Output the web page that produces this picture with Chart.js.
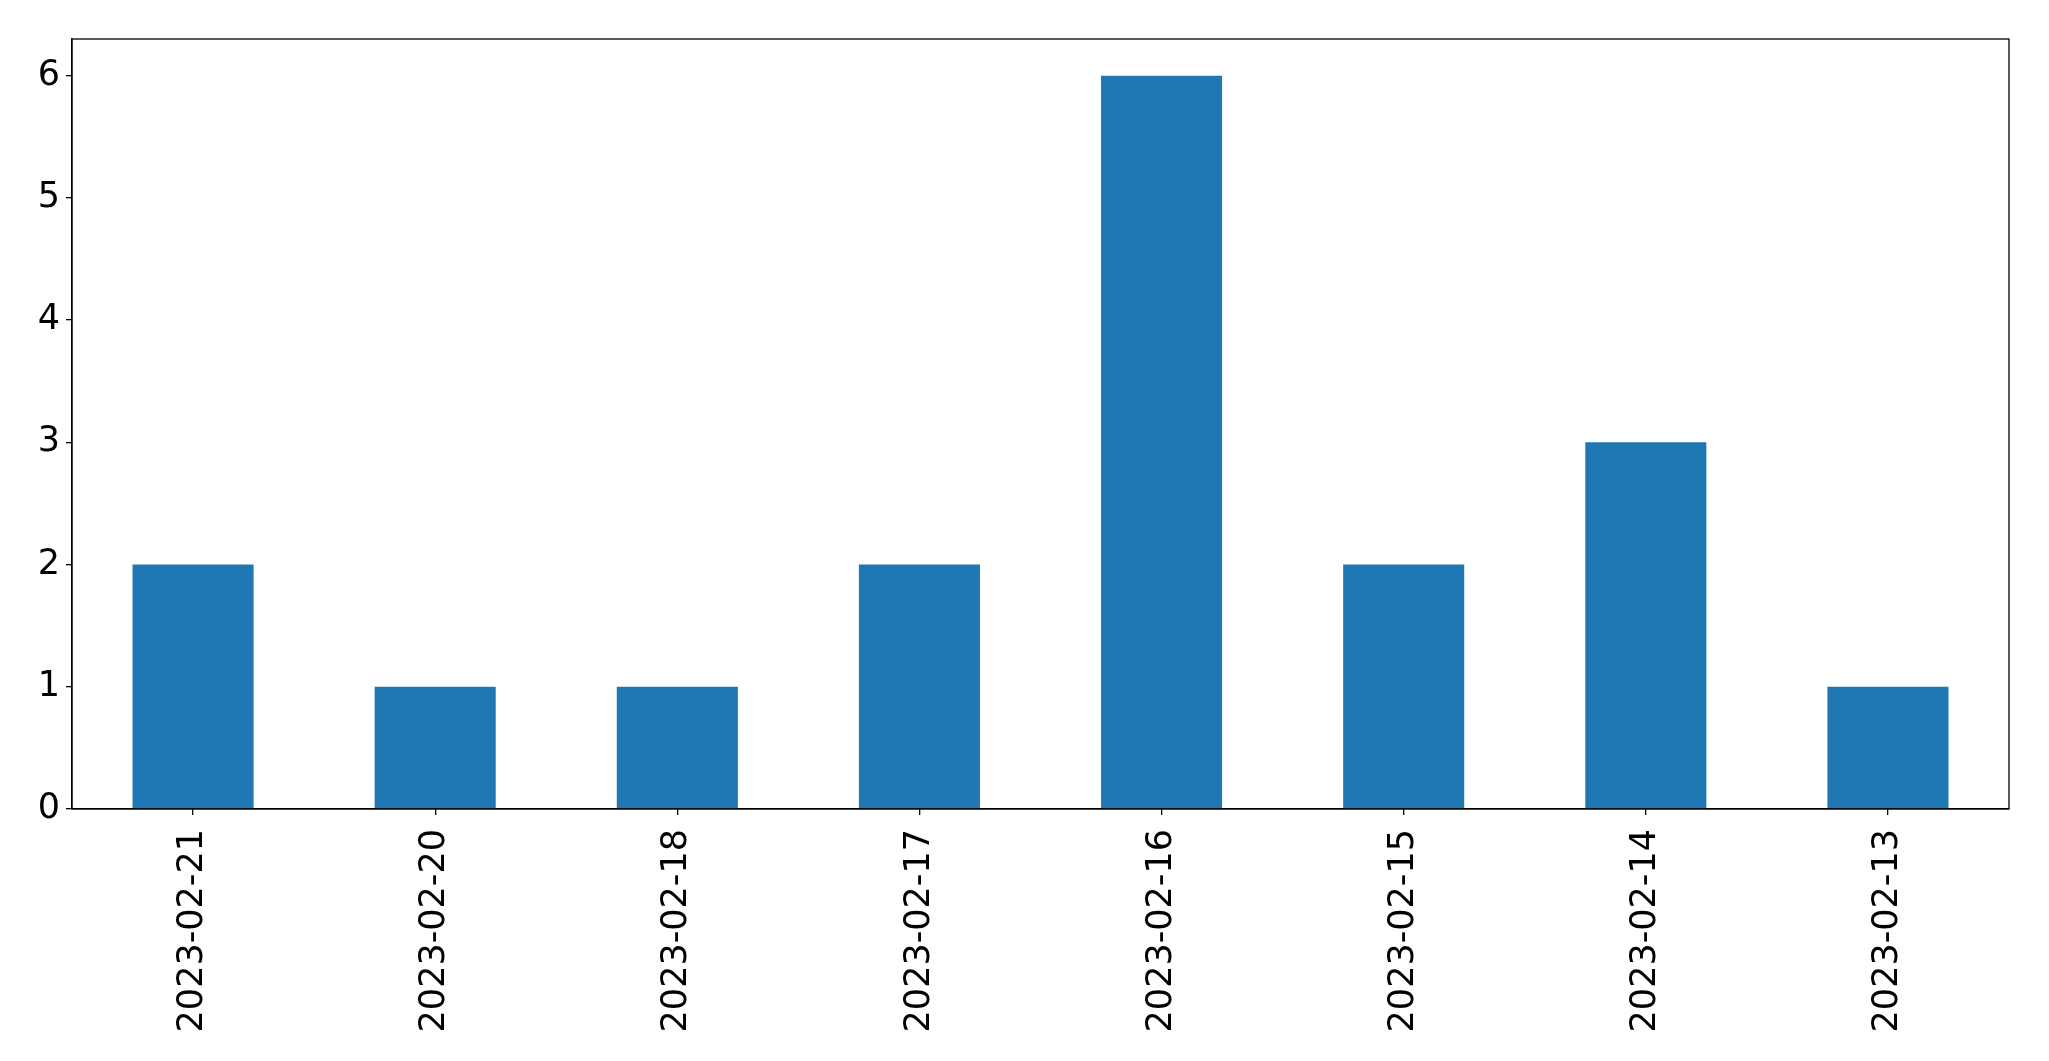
<!DOCTYPE html>
<html>
<head>
<meta charset="utf-8">
<script src="https://cdn.jsdelivr.net/npm/chart.js@4"></script>
<style>
  html, body { margin: 0; padding: 0; background: #fff; }
  #wrap { width: 2049px; height: 1061px; }
</style>
</head>
<body>
<div id="wrap"><canvas id="myChart" width="2049" height="1061"></canvas></div>
<script>
var dates = ['2023-02-21', '2023-02-20', '2023-02-18', '2023-02-17', '2023-02-16', '2023-02-15', '2023-02-14', '2023-02-13'];
var counts = [2, 1, 1, 2, 6, 2, 3, 1];
var yTicks = [0, 1, 2, 3, 4, 5, 6];

// draws the top and right spines
var frame = {
    id: 'frame',
    afterDraw: function(chart) {
        var a = chart.chartArea;
        var c = chart.ctx;
        c.save();
        c.strokeStyle = '#000';
        c.lineWidth = 1.3;
        c.strokeRect(a.left, a.top, a.right - a.left, a.bottom - a.top);
        c.restore();
    }
};

var ctx = document.getElementById('myChart').getContext('2d');
var myChart = new Chart(ctx, {
    type: 'bar',
    data: {
        labels: dates,
        datasets: [{
            data: counts,
            backgroundColor: '#1f77b4',
            borderWidth: 0,
            barPercentage: 0.5,
            categoryPercentage: 1.0
        }]
    },
    options: {
        responsive: false,
        animation: false,
        layout: { padding: { top: 39, right: 40, left: 0, bottom: 0 } },
        plugins: {
            legend: { display: false },
            tooltip: { enabled: false }
        },
        scales: {
            x: {
                offset: true,
                grid: { display: true, offset: false, drawOnChartArea: false, tickLength: 6, color: '#000', lineWidth: 1.3 },
                border: { display: true, color: '#000', width: 1.3 },
                ticks: {
                    color: '#000',
                    font: { family: 'DejaVu Sans', size: 35 },
                    minRotation: 90,
                    maxRotation: 90,
                    padding: 14,
                    autoSkip: false
                },
                afterFit: function(scale) { scale.height = 252; }
            },
            y: {
                min: 0,
                max: 6.3,
                grid: { display: true, drawOnChartArea: false, tickLength: 6, color: '#000', lineWidth: 1.3 },
                border: { display: true, color: '#000', width: 1.3 },
                ticks: {
                    color: '#000',
                    font: { family: 'DejaVu Sans', size: 35 },
                    stepSize: 1,
                    includeBounds: false,
                    padding: 6
                },
                afterBuildTicks: function(scale) {
                    scale.ticks = yTicks.map(function(v) { return { value: v }; });
                },
                afterFit: function(scale) { scale.width = 72; }
            }
        }
    },
    plugins: [frame]
});
</script>
</body>
</html>
